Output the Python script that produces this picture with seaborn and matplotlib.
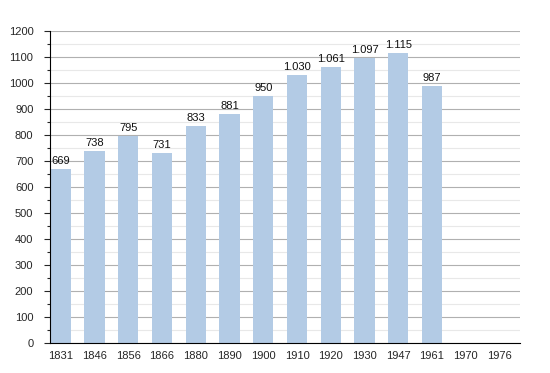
import matplotlib
matplotlib.use("Agg")
import matplotlib.pyplot as plt
import seaborn as sns
import pandas as pd
from matplotlib.ticker import MultipleLocator

# dades del cens
anys = ["1831", "1846", "1856", "1866", "1880", "1890", "1900", "1910",
        "1920", "1930", "1947", "1961", "1970", "1976"]
poblacio = [669, 738, 795, 731, 833, 881, 950, 1030, 1061, 1097, 1115, 987, None, None]
etiquetes = ["669", "738", "795", "731", "833", "881", "950", "1.030",
             "1.061", "1.097", "1.115", "987", "", ""]

df = pd.DataFrame({"Any": anys, "Poblacio": poblacio})

sns.set_style("white")
plt.rcParams['font.family'] = ['Liberation Sans', 'DejaVu Sans']

fig = plt.figure(figsize=(5.5, 3.73), dpi=100)
ax = fig.add_axes([0.091, 0.080, 0.854, 0.837])

sns.barplot(data=df, x="Any", y="Poblacio", ax=ax, color="#b3cbe5",
            saturation=1, width=0.6, order=anys, linewidth=0)

for i, (v, t) in enumerate(zip(poblacio, etiquetes)):
    if v is not None:
        ax.text(i, v + 12, t, ha="center", va="bottom", fontsize=8, color="#111111")

ax.set_ylim(0, 1200)
ax.set_xlim(-0.32, 13.6)
ax.yaxis.set_major_locator(MultipleLocator(100))
ax.yaxis.set_minor_locator(MultipleLocator(50))
ax.grid(which="major", axis="y", color="#b0b0b0", linewidth=0.8)
ax.grid(which="minor", axis="y", color="#e8e8e8", linewidth=0.8)
ax.set_axisbelow(True)

for s in ["top", "right"]:
    ax.spines[s].set_visible(False)
ax.spines["left"].set_color("black")
ax.spines["bottom"].set_color("black")

ax.tick_params(axis="y", which="major", left=True, length=4, width=0.8, labelsize=8, pad=8)
ax.tick_params(axis="y", which="minor", left=True, length=2, width=0.8)
ax.tick_params(axis="x", bottom=False, labelsize=8, pad=2)
ax.set_xlabel("")
ax.set_ylabel("")

plt.savefig("out.png", dpi=100)
